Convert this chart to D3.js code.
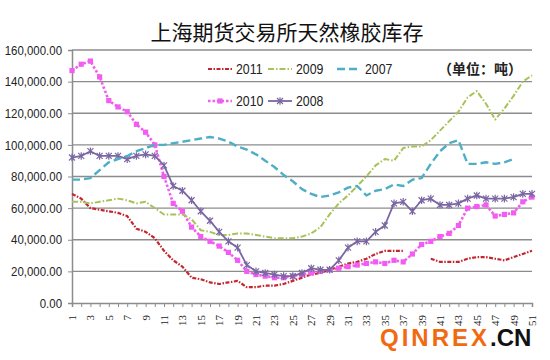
<!DOCTYPE html>
<html>
<head>
<meta charset="utf-8">
<script src="https://cdn.jsdelivr.net/npm/d3@7"></script>
<style>
  html, body { margin: 0; padding: 0; background: #fff; }
  svg { display: block; }
</style>
</head>
<body>
<svg id="chart" width="550" height="360"></svg>
<script>
// ---------- data ----------
const weeks = d3.range(1, 52); // 1..51
const xTickLabels = d3.range(1, 52, 2); // 1,3,...,51
const yTicks = [0, 20000, 40000, 60000, 80000, 100000, 120000, 140000, 160000];

const s2011 = [69000,66000,60000,59000,58000,57000,55000,47000,45000,41000,33000,27000,23000,16000,15000,13000,12000,13000,14000,10000,10000,11000,11000,12000,14000,16000,18000,19000,21000,23000,25000,26000,28000,31000,33000,33000,33000,null,null,28000,26000,26000,26000,28000,29000,29000,28000,27000,29000,31000,33000];
const s2010 = [147000,151000,153000,143000,128000,124000,121000,113000,108000,100000,80000,63000,58000,48000,42000,39000,36000,32000,27000,20000,18000,17000,16000,16000,17000,18000,19000,20000,21000,22000,23000,24000,25000,26000,25000,27000,26000,31000,37000,39000,42000,44000,49000,60000,61000,62000,55000,56000,57000,64000,67000];
const s2009 = [64000,64000,63000,64000,65000,66000,65000,63000,64000,60000,56000,56000,56000,53000,46000,45000,43000,43000,44000,44000,43000,42000,41000,41000,41000,42000,44000,48000,56000,63000,68000,74000,80000,87000,91000,90000,98000,99000,99000,103000,109000,115000,121000,130000,134000,126000,116000,123000,131000,140000,144000];
const s2008 = [92000,93000,96000,93000,93000,93000,91000,93000,94000,93000,87000,74000,71000,65000,58000,52000,45000,39000,35000,24000,20000,19000,18000,17000,17000,19000,22000,21000,21000,27000,35000,39000,39000,45000,49000,63000,64000,58000,65000,66000,62000,62000,63000,66000,68000,66000,66000,66000,67000,69000,69000];
const s2007 = [78000,78000,79000,84000,89000,91000,93000,96000,98000,100000,100000,101000,102000,103000,104000,105000,104000,102000,99000,97000,94000,90000,86000,81000,77000,72000,69000,67000,68000,70000,73000,74000,68000,71000,72000,75000,74000,78000,79000,88000,96000,101000,103000,88000,88000,89000,88000,89000,91000,null,null];

const seriesNames = ["2011", "2010", "2009", "2008", "2007"];
const seriesValues = [s2011, s2010, s2009, s2008, s2007];

const chartTitle = "上海期货交易所天然橡胶库存";
const unitText = "（单位：吨）";

// ---------- styles ----------
const styles = {
  "2011": { color: "#c3272d", width: 2.2, dash: "4,1.5,1.5,1.5", marker: null },
  "2010": { color: "#f25cf2", width: 2.6, dash: "2.5,2", marker: "square" },
  "2009": { color: "#a8c25a", width: 2, dash: "6,2,1.5,2", marker: null },
  "2008": { color: "#7a66a3", width: 1.8, dash: null, marker: "star" },
  "2007": { color: "#4eaec6", width: 2.4, dash: "8,4", marker: null }
};

// ---------- layout ----------
const svg = d3.select("#chart");
const mLeft = 72, mRight = 532, mTop = 50, mBottom = 303;

const x = d3.scaleLinear().domain([1, 51]).range([mLeft, mRight]);
const y = d3.scaleLinear().domain([0, 160000]).range([mBottom, mTop]);

const fmt = d3.format(",.2f");

// condense a text element horizontally
function condense(sel, k) {
  sel.each(function () {
    const len = this.getComputedTextLength();
    d3.select(this).attr("textLength", len * k).attr("lengthAdjust", "spacingAndGlyphs");
  });
}

// gridlines
svg.append("g")
  .selectAll("line")
  .data(yTicks.filter(d => d > 0))
  .join("line")
  .attr("x1", mLeft).attr("x2", mRight)
  .attr("y1", d => y(d)).attr("y2", d => y(d))
  .attr("stroke", "#8c8c8c").attr("stroke-width", 1.3);

// y axis
const yAxis = d3.axisLeft(y).tickValues(yTicks).tickFormat(fmt).tickSize(4).tickPadding(6);
const gy = svg.append("g").attr("transform", `translate(${mLeft},0)`).call(yAxis);
gy.select(".domain").attr("stroke", "#8c8c8c").attr("stroke-width", 1.5);
gy.selectAll(".tick line").attr("stroke", "#8c8c8c");
gy.selectAll("text")
  .attr("font-family", "'Liberation Sans',Arial,sans-serif")
  .attr("font-size", 13).attr("fill", "#222")
  .call(condense, 0.88);

// x axis
const xAxis = d3.axisBottom(x).tickValues(weeks).tickSize(4).tickFormat("");
const gx = svg.append("g").attr("transform", `translate(0,${mBottom})`).call(xAxis);
gx.select(".domain").attr("stroke", "#8c8c8c").attr("stroke-width", 1.5);
gx.selectAll(".tick line").attr("stroke", "#8c8c8c");

svg.append("g")
  .selectAll("text")
  .data(xTickLabels)
  .join("text")
  .attr("transform", d => `translate(${x(d) + 4},${mBottom + 12}) rotate(-90)`)
  .attr("text-anchor", "end")
  .attr("font-family", "'Liberation Serif','DejaVu Serif',serif")
  .attr("font-size", 11)
  .attr("fill", "#222")
  .text(d => d);

// lines
const line = d3.line()
  .defined(d => d.v != null)
  .x(d => x(d.w))
  .y(d => y(d.v));

const starPath = "M-3,-3L3,3M-3,3L3,-3M0,-3.8L0,3.8";

seriesNames.forEach((name, i) => {
  const st = styles[name];
  const pts = seriesValues[i].map((v, j) => ({ w: weeks[j], v }));
  svg.append("path")
    .datum(pts)
    .attr("d", line)
    .attr("fill", "none")
    .attr("stroke", st.color)
    .attr("stroke-width", st.width)
    .attr("stroke-dasharray", st.dash)
    .attr("stroke-linejoin", "round");
  const defined = pts.filter(d => d.v != null);
  if (st.marker === "square") {
    svg.append("g").selectAll("rect").data(defined).join("rect")
      .attr("x", d => x(d.w) - 2.6).attr("y", d => y(d.v) - 2.6)
      .attr("width", 5.2).attr("height", 5.2)
      .attr("fill", st.color);
  } else if (st.marker === "star") {
    svg.append("g").selectAll("path").data(defined).join("path")
      .attr("transform", d => `translate(${x(d.w)},${y(d.v)})`)
      .attr("d", starPath)
      .attr("stroke", st.color).attr("stroke-width", 1.2).attr("fill", "none");
  }
});

// title
svg.append("text")
  .attr("x", 287).attr("y", 40)
  .attr("text-anchor", "middle")
  .attr("font-family", "'Noto Sans CJK SC',sans-serif")
  .attr("font-size", 21)
  .attr("fill", "#111")
  .text(chartTitle);

// legend (column-major, 2 rows)
const legendCols = [208, 268, 337];
const legendRows = [69, 101];
seriesNames.forEach((name, i) => {
  const st = styles[name];
  const cx = legendCols[Math.floor(i / 2)];
  const cy = legendRows[i % 2];
  const g = svg.append("g").attr("transform", `translate(${cx},${cy})`);
  g.append("line").attr("x1", 0).attr("x2", 24).attr("y1", 0).attr("y2", 0)
    .attr("stroke", st.color).attr("stroke-width", st.width)
    .attr("stroke-dasharray", st.dash);
  if (st.marker === "square") {
    g.append("rect").attr("x", 9.4).attr("y", -2.6).attr("width", 5.2).attr("height", 5.2).attr("fill", st.color);
  } else if (st.marker === "star") {
    g.append("path").attr("transform", "translate(12,0)").attr("d", starPath)
      .attr("stroke", st.color).attr("stroke-width", 1.2);
  }
  g.append("text").attr("x", 28).attr("y", 5)
    .attr("font-family", "'Liberation Sans',Arial,sans-serif")
    .attr("font-size", 14).attr("fill", "#222")
    .text(name)
    .call(condense, 0.88);
});

svg.append("text")
  .attr("x", 438).attr("y", 74)
  .attr("font-family", "'Noto Sans CJK SC',sans-serif")
  .attr("font-size", 14).attr("font-weight", 700)
  .attr("fill", "#222")
  .text(unitText);

// watermark
const wm = svg.append("text")
  .attr("x", 380).attr("y", 346)
  .attr("font-family", "'Liberation Sans',Arial,sans-serif")
  .attr("font-size", 24).attr("font-weight", 700)
  .attr("letter-spacing", 3);
wm.append("tspan").attr("fill", "#f26a10").text("QINREX");
wm.append("tspan").attr("fill", "#111").attr("letter-spacing", 0).text(".CN");
</script>
</body>
</html>
